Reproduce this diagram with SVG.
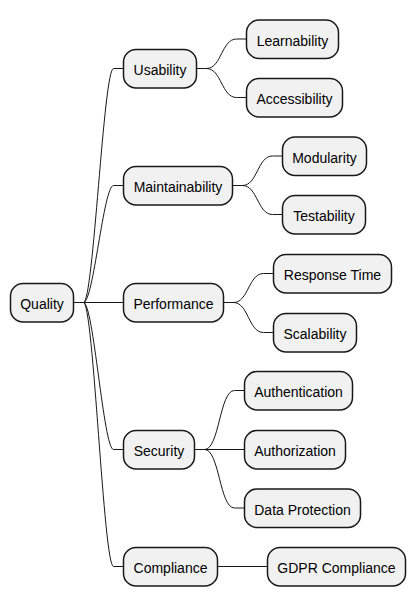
<svg xmlns="http://www.w3.org/2000/svg" width="416" height="607" viewBox="0 0 416 607">
<style>
.n rect{fill:#F1F1F1;stroke:#181818;stroke-width:1.5}
.n text{font-family:"Liberation Sans",Arial,sans-serif;font-size:14px;fill:#000;text-anchor:middle}
.c path{fill:none;stroke:#181818;stroke-width:1}
</style>
<rect width="416" height="607" fill="#FFFFFF"/>
<g class="c" id="connectors">
<path d="M73.5,302.5 L83.5,302.5 C93.5,302.5 103.5,68.5 113.5,68.5 L123.5,68.5"/>
<path d="M73.5,302.5 L83.5,302.5 C93.5,302.5 103.5,185.5 113.5,185.5 L123.5,185.5"/>
<path d="M73.5,302.5 L123.5,302.5"/>
<path d="M73.5,302.5 L83.5,302.5 C93.5,302.5 103.5,449.5 113.5,449.5 L123.5,449.5"/>
<path d="M73.5,302.5 L83.5,302.5 C93.5,302.5 103.5,566.5 113.5,566.5 L123.5,566.5"/>
<path d="M196.5,68.5 L206.5,68.5 C221.5,68.5 221.5,39 236.5,39 L246.5,39"/>
<path d="M196.5,68.5 L206.5,68.5 C221.5,68.5 221.5,97.5 236.5,97.5 L246.5,97.5"/>
<path d="M232.5,185.5 L242.5,185.5 C257.5,185.5 257.5,156 272.5,156 L282.5,156"/>
<path d="M232.5,185.5 L242.5,185.5 C257.5,185.5 257.5,214.5 272.5,214.5 L282.5,214.5"/>
<path d="M223.5,302.5 L233.5,302.5 C248.5,302.5 248.5,273.5 263.5,273.5 L273.5,273.5"/>
<path d="M223.5,302.5 L233.5,302.5 C248.5,302.5 248.5,332.5 263.5,332.5 L273.5,332.5"/>
<path d="M194.5,449.5 L204.5,449.5 C219.5,449.5 219.5,390.5 234.5,390.5 L244.5,390.5"/>
<path d="M194.5,449.5 L244.5,449.5"/>
<path d="M194.5,449.5 L204.5,449.5 C219.5,449.5 219.5,508 234.5,508 L244.5,508"/>
<path d="M217.5,566.5 L267.5,566.5"/>
</g>
<g class="n" id="quality"><rect x="10.5" y="283.5" width="63" height="38.5" rx="12.5"/><text x="42" y="309">Quality</text></g>
<g class="n" id="usability"><rect x="123.5" y="49.5" width="73" height="38.5" rx="12.5"/><text x="160" y="75">Usability</text></g>
<g class="n" id="learnability"><rect x="246.5" y="20" width="92" height="38.5" rx="12.5"/><text x="292.5" y="45.5">Learnability</text></g>
<g class="n" id="accessibility"><rect x="246.5" y="78.5" width="96" height="38.5" rx="12.5"/><text x="294.5" y="104">Accessibility</text></g>
<g class="n" id="maintainability"><rect x="123.5" y="166.5" width="109" height="38.5" rx="12.5"/><text x="178" y="192">Maintainability</text></g>
<g class="n" id="modularity"><rect x="282.5" y="137" width="84" height="38.5" rx="12.5"/><text x="324.5" y="162.5">Modularity</text></g>
<g class="n" id="testability"><rect x="282.5" y="195.5" width="83" height="38.5" rx="12.5"/><text x="324" y="221">Testability</text></g>
<g class="n" id="performance"><rect x="123.5" y="283.5" width="100" height="38.5" rx="12.5"/><text x="173.5" y="309">Performance</text></g>
<g class="n" id="response-time"><rect x="273.5" y="254.5" width="118" height="38.5" rx="12.5"/><text x="332.5" y="280">Response Time</text></g>
<g class="n" id="scalability"><rect x="273.5" y="313.5" width="83" height="38.5" rx="12.5"/><text x="315" y="339">Scalability</text></g>
<g class="n" id="security"><rect x="123.5" y="430.5" width="71" height="38.5" rx="12.5"/><text x="159" y="456">Security</text></g>
<g class="n" id="authentication"><rect x="244.5" y="371.5" width="108" height="38.5" rx="12.5"/><text x="298.5" y="397">Authentication</text></g>
<g class="n" id="authorization"><rect x="244.5" y="430.5" width="101" height="38.5" rx="12.5"/><text x="295" y="456">Authorization</text></g>
<g class="n" id="data-protection"><rect x="244.5" y="489" width="116" height="38.5" rx="12.5"/><text x="302.5" y="514.5">Data Protection</text></g>
<g class="n" id="compliance"><rect x="123.5" y="547.5" width="94" height="38.5" rx="12.5"/><text x="170.5" y="573">Compliance</text></g>
<g class="n" id="gdpr-compliance"><rect x="267.5" y="547.5" width="138" height="38.5" rx="12.5"/><text x="336.5" y="573">GDPR Compliance</text></g>
</svg>
